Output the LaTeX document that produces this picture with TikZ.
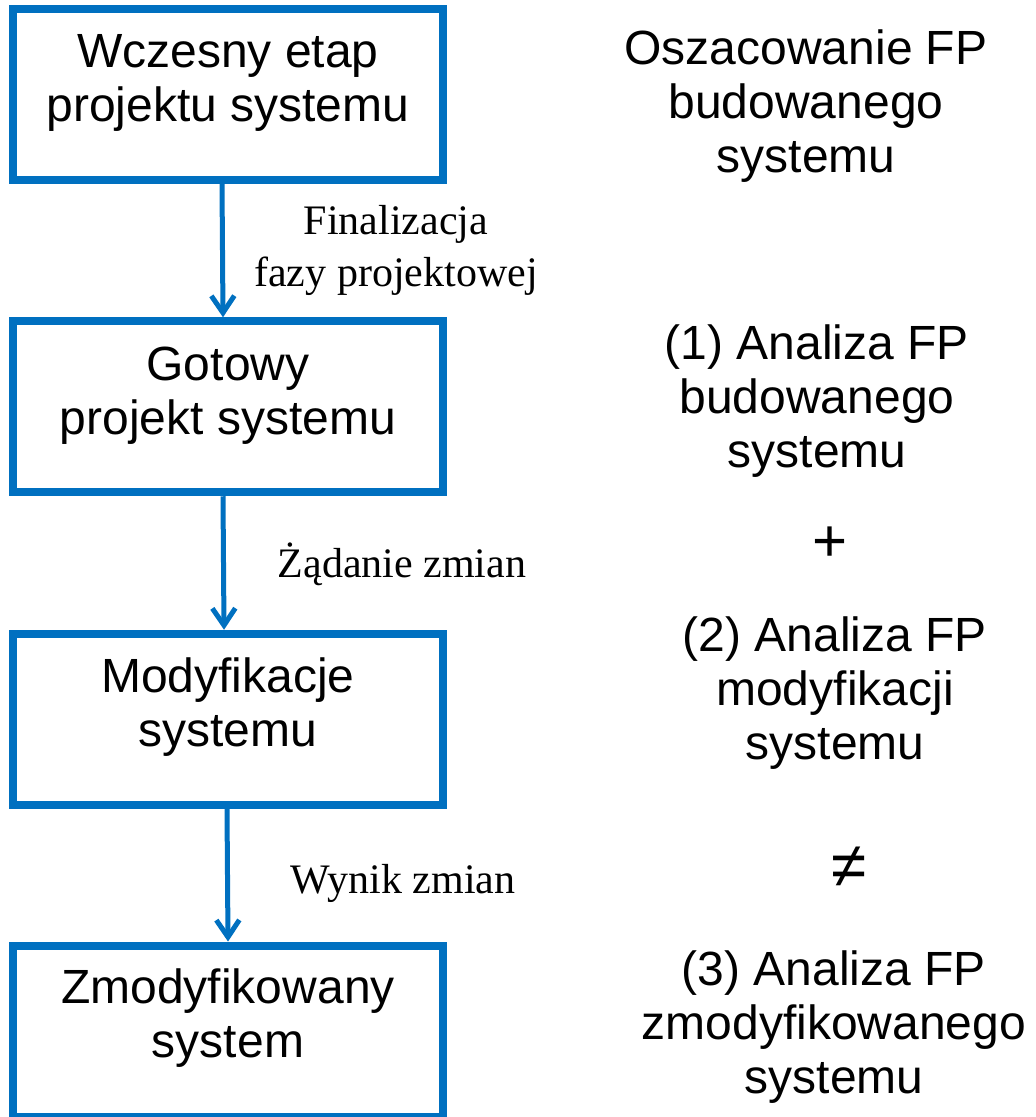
\documentclass[tikz,border=0pt]{standalone}
\usepackage{fontspec}
\setmainfont{Liberation Sans}
\newfontfamily\labelfont{Liberation Serif}
\usetikzlibrary{arrows.meta}
\definecolor{flowblue}{RGB}{0,112,192}
\begin{document}
\begin{tikzpicture}[x=0.5pt,y=-0.5pt,
  stagebox/.style={draw=flowblue, line width=4pt, minimum width=215pt,
    minimum height=85.5pt, inner sep=0pt},
  boxtext/.style={align=center, anchor=base, inner sep=0pt,
    font=\fontsize{24}{27}\selectfont},
  opsign/.style={anchor=base, inner sep=0pt, font=\fontsize{30}{30}\selectfont},
  flowlabel/.style={align=center, anchor=base, inner sep=0pt,
    font=\labelfont\fontsize{21}{25.5}\selectfont},
  flowarrow/.style={draw=flowblue, line width=2.5pt,
    -{Straight Barb[length=8.5pt,width=11.5pt]}}
]
\useasboundingbox (0,0) rectangle (1035,1117);

% stages of the system (text nodes are placed by the baseline of their last line)
\node[stagebox] (b1) at (228,94.5) {};
\node[stagebox] (b2) at (228,406.75) {};
\node[stagebox] (b3) at (228,719.25) {};
\node[stagebox] (b4) at (228,1031) {};

\node[boxtext] (t1) at (228,122) {Wczesny etap\\projektu systemu};
\node[boxtext] (t2) at (228,434) {Gotowy\\projekt systemu};
\node[boxtext] (t3) at (228,746) {Modyfikacje\\systemu};
\node[boxtext] (t4) at (228,1057) {Zmodyfikowany\\system};

% transitions
\draw[flowarrow] ([xshift=-3pt]b1.south) -- ([xshift=-2.5pt]b2.north);
\draw[flowarrow] ([xshift=-2.5pt]b2.south) -- ([xshift=-2pt]b3.north);
\draw[flowarrow] ([xshift=-0.5pt]b3.south) -- ([xshift=0pt]b4.north);

\node[flowlabel] (l1) at (396,286) {Finalizacja\\fazy projektowej};
\node[flowlabel] (l2) at (402,577) {Żądanie zmian};
\node[flowlabel] (l3) at (403,893) {Wynik zmian};

% function point analyses
\node[boxtext] (r1) at (806,173) {Oszacowanie FP\\budowanego\\systemu};
\node[boxtext] (r2) at (817,467) {(1) Analiza FP\\budowanego\\systemu};
\node[opsign] (plus) at (830,561) {+};
\node[boxtext] (r3) at (835,759) {(2) Analiza FP\\modyfikacji\\systemu};
\node[opsign, font=\fontsize{32}{32}\selectfont] (neq) at (849,887) {≠};
\node[boxtext] (r4) at (834,1093) {(3) Analiza FP\\zmodyfikowanego\\systemu};
\end{tikzpicture}
\end{document}
